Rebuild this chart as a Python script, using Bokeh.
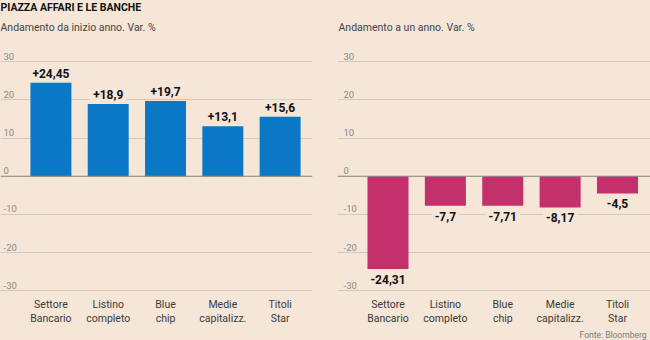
from bokeh.plotting import figure
from bokeh.models import ColumnDataSource, Label, FixedTicker, Range1d, Span, Grid
from bokeh.layouts import row
from bokeh.embed import file_html
from bokeh.resources import INLINE
from bokeh.core.properties import value

# ---- data ----
categories = ["Settore\nBancario", "Listino\ncompleto", "Blue\nchip", "Medie\ncapitalizz.", "Titoli\nStar"]
ytd_values = [24.45, 18.9, 19.7, 13.1, 15.6]
ytd_labels = ["+24,45", "+18,9", "+19,7", "+13,1", "+15,6"]
year_values = [-24.31, -7.7, -7.71, -8.17, -4.5]
year_labels = ["-24,31", "-7,7", "-7,71", "-8,17", "-4,5"]
y_ticks = [-30, -20, -10, 0, 10, 20, 30]
y_tick_labels = ["-30", "-20", "-10", "0", "10", "20", "30"]

title_text = "PIAZZA AFFARI E LE BANCHE"
subtitle_left = "Andamento da inizio anno. Var. %"
subtitle_right = "Andamento a un anno. Var. %"
source_text = "Fonte: Bloomberg"

# ---- style ----
BG = "#F5E6D8"
BLUE = "#0A78C4"
MAGENTA = "#C4306C"
GRID = "#D4C8BB"
ZERO = "#8E8882"
FONT = "Roboto"
H = 340
Y_LOW, Y_HIGH = -43.0, 46.0   # frame spans the whole height


def make_panel(values, labels, color, subtitle, x_end, border_left, border_right,
               tick_offset, positive, main_title=None, source=None):
    xs = list(range(len(categories)))
    x0 = -0.88
    p = figure(width=325, height=H, output_backend="svg", toolbar_location=None,
               x_range=Range1d(x0, x_end), y_range=Range1d(Y_LOW, Y_HIGH),
               x_axis_location=None, y_axis_location=None,
               min_border_left=border_left, min_border_right=border_right,
               min_border_top=0, min_border_bottom=0)
    p.background_fill_color = BG
    p.border_fill_color = BG
    p.outline_line_color = None
    p.grid.visible = False

    p.add_layout(Grid(dimension=1, ticker=FixedTicker(ticks=y_ticks),
                      grid_line_color=GRID, grid_line_width=1))
    p.add_layout(Span(location=0, dimension="width", line_color=ZERO, line_width=1))

    # y tick labels, sitting just above their grid lines
    p.text(x=[x0] * len(y_ticks), y=y_ticks, text=y_tick_labels,
           x_offset=tick_offset, y_offset=-2, text_baseline="bottom",
           text_font=value(FONT), text_font_size="9.5px", text_color="#8A8A8A")

    src = ColumnDataSource(dict(x=xs, top=values, label=labels,
                                cat=categories, base=[min(y_ticks)] * len(xs)))
    p.vbar(x="x", top="top", bottom=0, width=0.715, source=src,
           fill_color=color, line_color=None)

    # category labels under the lowest grid line
    p.text(x="x", y="base", text="cat", source=src, text_align="center",
           text_baseline="top", y_offset=7, text_line_height=1.1,
           text_font=value(FONT), text_font_size="10.5px", text_color="#3A3A3A")

    # value labels
    p.text(x="x", y="top", text="label", source=src,
           text_align="center",
           text_baseline="bottom" if positive else "top",
           y_offset=-2 if positive else 3,
           text_font=value(FONT), text_font_size="12px", text_font_style="bold",
           text_color="#111111",
           background_fill_color=BG, padding=3)

    sub_x = 0 if border_left == 0 else 1
    p.add_layout(Label(x=sub_x, y=H - 27, x_units="screen", y_units="screen",
                       text=subtitle, text_baseline="middle", text_align="left",
                       text_font=FONT, text_font_size="10.5px", text_color="#444444"))
    if main_title:
        p.add_layout(Label(x=0, y=H - 7, x_units="screen", y_units="screen",
                           text=main_title, text_baseline="middle", text_align="left",
                           text_font=FONT, text_font_size="10.5px", text_font_style="bold",
                           text_color="#111111"))
    if source:
        p.add_layout(Label(x=309, y=6, x_units="screen", y_units="screen",
                           text=source, text_baseline="middle", text_align="right",
                           text_font=FONT, text_font_size="8.5px", text_color="#7A7A7A"))
    return p


left = make_panel(ytd_values, ytd_labels, BLUE, subtitle_left, 4.565, 0, 13, 3, True,
                  main_title=title_text)
right = make_panel(year_values, year_labels, MAGENTA, subtitle_right, 4.575, 12, 0, 6, False,
                   source=source_text)

layout = row(left, right, styles={"background-color": BG})
open("out.html", "w").write(file_html(layout, INLINE))
